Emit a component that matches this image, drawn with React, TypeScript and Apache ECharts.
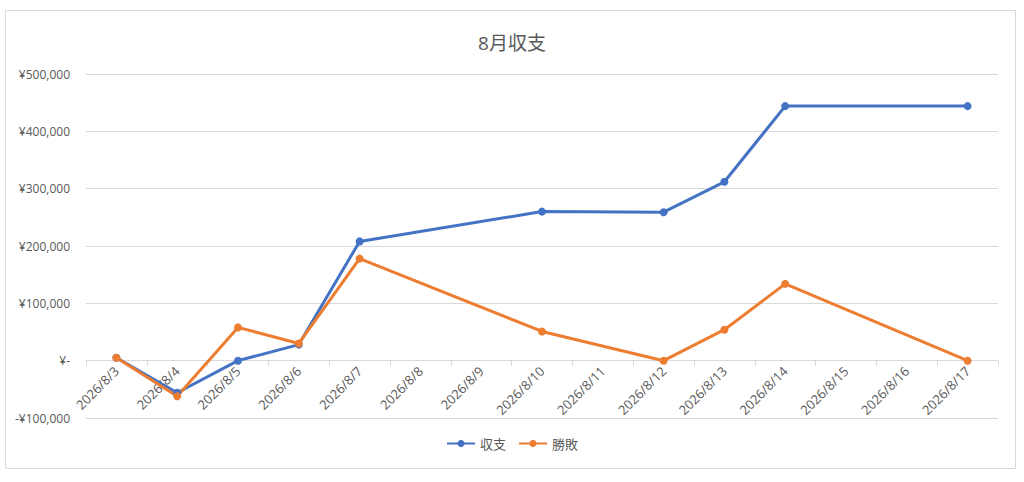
import React, { useEffect, useRef } from "react";
import * as echarts from "echarts";

const categories = [
  "2026/8/3", "2026/8/4", "2026/8/5", "2026/8/6", "2026/8/7", "2026/8/8", "2026/8/9",
  "2026/8/10", "2026/8/11", "2026/8/12", "2026/8/13", "2026/8/14", "2026/8/15", "2026/8/16", "2026/8/17",
];
const balance: (number | null)[] = [
  5000, -56000, 0, 28000, 208000, null, null, 260000, null, 259000, 312000, 444000, null, null, 444000,
];
const winLoss: (number | null)[] = [
  5000, -62000, 58000, 30000, 178000, null, null, 51000, null, 0, 54000, 134000, null, null, 0,
];
const seriesNames = ["収支", "勝敗"];
const titleText = "8月収支";
const yMin = -100000;
const yMax = 500000;
const yStep = 100000;

const FONT = "'Open Sans', 'Noto Sans CJK JP', sans-serif";
const TEXT = "#595959";
const GRID_TOP = 74;
const GRID_BOTTOM = 64;
const H = 482;

function fmtYen(v: number): string {
  if (v === 0) return "¥-";
  const s = Math.abs(v).toLocaleString("en-US");
  return v < 0 ? "-¥" + s : "¥" + s;
}

export default function App() {
  const ref = useRef<HTMLDivElement>(null);
  useEffect(() => {
    if (!ref.current) return;
    const chart = echarts.init(ref.current, undefined, { renderer: "svg" });
    const plotH = H - GRID_TOP - GRID_BOTTOM;
    const zeroOffset = (plotH * (0 - yMin)) / (yMax - yMin);
    chart.setOption({
      animation: false,
      backgroundColor: "#ffffff",
      textStyle: { fontFamily: FONT },
      title: {
        text: titleText,
        left: "center",
        top: 28,
        textStyle: { color: TEXT, fontSize: 19, fontWeight: "normal", fontFamily: FONT },
      },
      graphic: [
        {
          type: "rect",
          shape: { x: 5.5, y: 10.5, width: 1010, height: 458 },
          style: { fill: "none", stroke: "#d9d9d9", lineWidth: 1 },
          silent: true,
          z: -1,
        },
      ],
      legend: {
        bottom: 27,
        left: "center",
        itemWidth: 28,
        itemHeight: 9,
        itemGap: 12,
        textStyle: { color: TEXT, fontSize: 13, fontFamily: FONT },
        data: seriesNames,
      },
      grid: { left: 86, right: 26, top: GRID_TOP, bottom: GRID_BOTTOM, containLabel: false },
      xAxis: {
        type: "category",
        data: categories,
        boundaryGap: true,
        position: "bottom",
        offset: -zeroOffset,
        axisLine: { onZero: false, lineStyle: { color: "#d9d9d9", width: 1 } },
        axisTick: { show: true, alignWithLabel: false, length: 5, lineStyle: { color: "#d9d9d9" } },
        axisLabel: {
          rotate: 45,
          interval: 0,
          color: TEXT,
          fontSize: 13,
          fontFamily: FONT,
          margin: 8,
        },
        splitLine: { show: false },
      },
      yAxis: {
        type: "value",
        min: yMin,
        max: yMax,
        interval: yStep,
        axisLine: { show: false },
        axisTick: { show: false },
        axisLabel: {
          color: TEXT,
          fontSize: 12,
          fontFamily: FONT,
          margin: 16,
          formatter: (v: number) => fmtYen(v),
        },
        splitLine: { lineStyle: { color: "#d9d9d9", width: 1 } },
      },
      series: [
        {
          name: seriesNames[0],
          type: "line",
          data: balance,
          connectNulls: true,
          symbol: "circle",
          symbolSize: 8,
          itemStyle: { color: "#4472C4" },
          lineStyle: { color: "#4472C4", width: 3 },
        },
        {
          name: seriesNames[1],
          type: "line",
          data: winLoss,
          connectNulls: true,
          symbol: "circle",
          symbolSize: 8,
          itemStyle: { color: "#ED7D31" },
          lineStyle: { color: "#ED7D31", width: 3 },
        },
      ],
    });
    return () => chart.dispose();
  }, []);
  return (
    <div
      ref={ref}
      style={{ position: "absolute", left: 0, top: 0, width: 1024, height: 482 }}
    />
  );
}
